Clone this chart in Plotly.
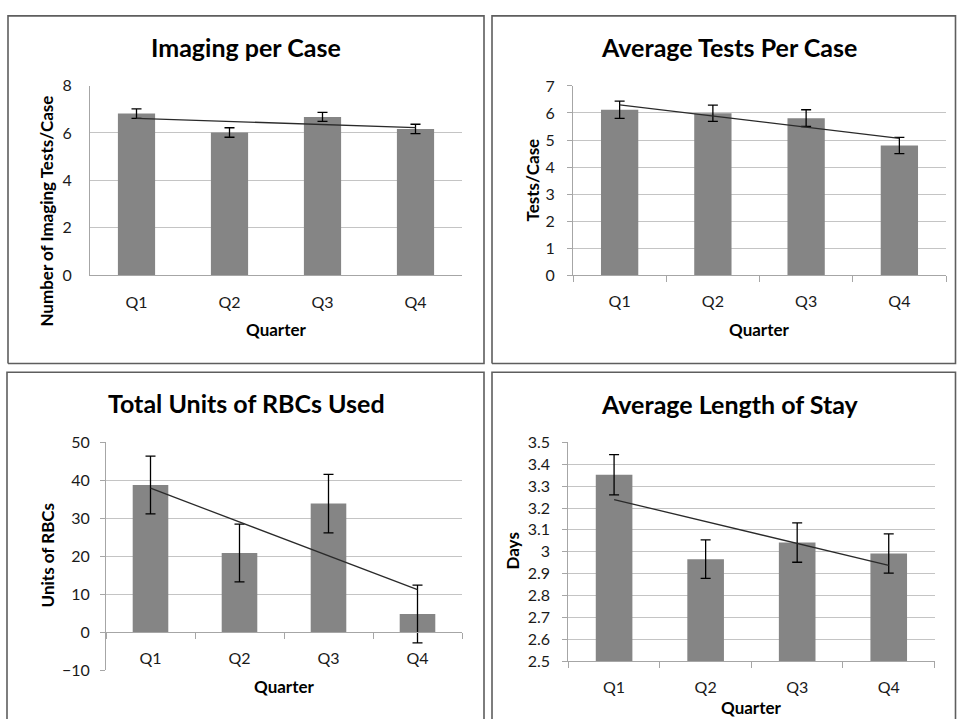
import numpy as np
import plotly.graph_objects as go

W, H = 957, 728

quarters = ["Q1", "Q2", "Q3", "Q4"]

imaging_values = [6.82, 6.02, 6.68, 6.17]
imaging_err = [0.20, 0.20, 0.19, 0.20]

tests_values = [6.12, 5.99, 5.81, 4.80]
tests_err = [0.32, 0.30, 0.31, 0.30]

rbc_values = [38.8, 20.9, 33.9, 4.8]
rbc_err = [7.6, 7.6, 7.7, 7.6]

los_values = [3.352, 2.966, 3.042, 2.992]
los_err = [0.092, 0.088, 0.090, 0.090]

chart_titles = ["Imaging per Case", "Average Tests Per Case",
                "Total Units of RBCs Used", "Average Length of Stay"]
y_titles = ["Number of Imaging Tests/Case", "Tests/Case", "Units of RBCs", "Days"]
x_title = "Quarter"

FONT = "Lato, Carlito, Calibri, sans-serif"
BAR = "#858585"
GRID = "#c4c4c4"
AXIS = "#a6a6a6"
BORDER = "#5e5e5e"


def px_x(v):
    return v / W


def px_y(v):
    return 1 - v / H


panels = [
    dict(values=imaging_values, err=imaging_err, rng=[0, 8], dtick=2,
         box=(90, 462, 77.7, 272), ticks=False, ystand=14, xstand=13,
         title_xy=(246, 38), ytitle_xy=(47, 207), xtitle_xy=(276, 328)),
    dict(values=tests_values, err=tests_err, rng=[0, 7], dtick=1,
         box=(573, 946, 78, 272.3), ticks=True, ystand=9, xstand=12,
         title_xy=(729, 38), ytitle_xy=(532, 175), xtitle_xy=(759.5, 328)),
    dict(values=rbc_values, err=rbc_err, rng=[-10, 50], dtick=10,
         box=(106, 462, 444, 678), ticks=True, ystand=7, xstand=11,
         title_xy=(247, 404), ytitle_xy=(47, 560), xtitle_xy=(284, 695)),
    dict(values=los_values, err=los_err, rng=[2.5, 3.5], dtick=0.1,
         box=(568.3, 934.5, 444, 668.5), ticks=True, ystand=9, xstand=12,
         title_xy=(730, 405), ytitle_xy=(512, 556), xtitle_xy=(751.5, 716)),
]

fig = go.Figure()
annotations = []

for i, p in enumerate(panels, start=1):
    xa = "x" if i == 1 else f"x{i}"
    ya = "y" if i == 1 else f"y{i}"
    fig.add_trace(go.Bar(
        x=quarters, y=p["values"], xaxis=xa, yaxis=ya,
        marker=dict(color=BAR, line=dict(width=0)),
        error_y=dict(type="data", array=p["err"], visible=True,
                     color="#000000", thickness=1.3, width=5),
        showlegend=False, hoverinfo="x+y",
    ))
    # linear trendline fitted from the data
    idx = np.arange(1, len(quarters) + 1)
    slope, intercept = np.polyfit(idx, p["values"], 1)
    trend = slope * idx + intercept
    fig.add_trace(go.Scatter(
        x=quarters, y=trend, xaxis=xa, yaxis=ya, mode="lines",
        line=dict(color="#2a2a2a", width=1.3), showlegend=False,
        hoverinfo="skip",
    ))

    x0, x1, y0, y1 = p["box"]
    xdom = [px_x(x0), px_x(x1)]
    ydom = [px_y(y1), px_y(y0)]
    xkey = "xaxis" if i == 1 else f"xaxis{i}"
    ykey = "yaxis" if i == 1 else f"yaxis{i}"

    xaxis = dict(domain=xdom, anchor=ya, type="category",
                 showgrid=False, showline=True, linecolor=AXIS, linewidth=1,
                 tickfont=dict(family=FONT, size=16, color="#1a1a1a"),
                 ticklabelstandoff=p["xstand"], zeroline=False,
                 fixedrange=True)
    if p["ticks"]:
        xaxis.update(ticks="outside", tickson="boundaries", ticklen=6,
                     tickcolor=AXIS, tickwidth=1)
    else:
        xaxis.update(ticks="")
    if p["rng"][0] < 0:
        lo, hi = p["rng"]
        pos = ydom[0] + (0 - lo) / (hi - lo) * (ydom[1] - ydom[0])
        xaxis.update(anchor="free", position=pos)

    yaxis = dict(domain=ydom, anchor=xa, range=p["rng"], dtick=p["dtick"],
                 tick0=p["rng"][0],
                 showgrid=True, gridcolor=GRID, gridwidth=1,
                 showline=True, linecolor=AXIS, linewidth=1,
                 zeroline=False,
                 tickfont=dict(family=FONT, size=16, color="#1a1a1a"),
                 ticklabelstandoff=p["ystand"], fixedrange=True)
    if p["ticks"]:
        yaxis.update(ticks="outside", ticklen=5, tickcolor=AXIS, tickwidth=1)
    else:
        yaxis.update(ticks="")

    fig.update_layout({xkey: xaxis, ykey: yaxis})

    tx, ty = p["title_xy"]
    annotations.append(dict(text=f"<b>{chart_titles[i-1]}</b>",
                            x=px_x(tx), y=px_y(ty), xref="paper", yref="paper",
                            xanchor="center", yanchor="middle", showarrow=False,
                            font=dict(family=FONT, size=25, color="#000000")))
    yx, yy = p["ytitle_xy"]
    annotations.append(dict(text=f"<b>{y_titles[i-1]}</b>",
                            x=px_x(yx), y=px_y(yy), xref="paper", yref="paper",
                            xanchor="center", yanchor="middle", showarrow=False,
                            textangle=-90,
                            font=dict(family=FONT, size=17, color="#000000")))
    qx, qy = p["xtitle_xy"]
    annotations.append(dict(text=f"<b>{x_title}</b>",
                            x=px_x(qx), y=px_y(qy), xref="paper", yref="paper",
                            xanchor="center", yanchor="middle", showarrow=False,
                            font=dict(family=FONT, size=17, color="#000000")))

# chart frames: top row closed boxes, bottom row open at the cropped bottom
frame_paths = [
    [(8, 363), (8, 6), (484, 6), (484, 363), (8, 363)],
    [(492, 363), (492, 6), (955.5, 6), (955.5, 363), (492, 363)],
    [(7, 728), (7, 372), (484, 372), (484, 728)],
    [(492, 728), (492, 372), (955.5, 372), (955.5, 728)],
]
shapes = []
for pts in frame_paths:
    path = "M " + " L ".join(f"{px_x(a):.5f},{px_y(b):.5f}" for a, b in pts)
    shapes.append(dict(type="path", xref="paper", yref="paper", path=path,
                       line=dict(color=BORDER, width=1.6), layer="below"))

fig.update_layout(
    width=W, height=H,
    margin=dict(l=0, r=0, t=0, b=0, pad=0),
    paper_bgcolor="#ffffff", plot_bgcolor="#ffffff",
    bargap=0.6,
    annotations=annotations,
    shapes=shapes,
    font=dict(family=FONT),
    showlegend=False,
)

fig.write_html("out.html", config={"displayModeBar": False},
               post_script="document.body.style.margin='0';document.body.style.padding='0';document.documentElement.style.overflow='hidden';")
